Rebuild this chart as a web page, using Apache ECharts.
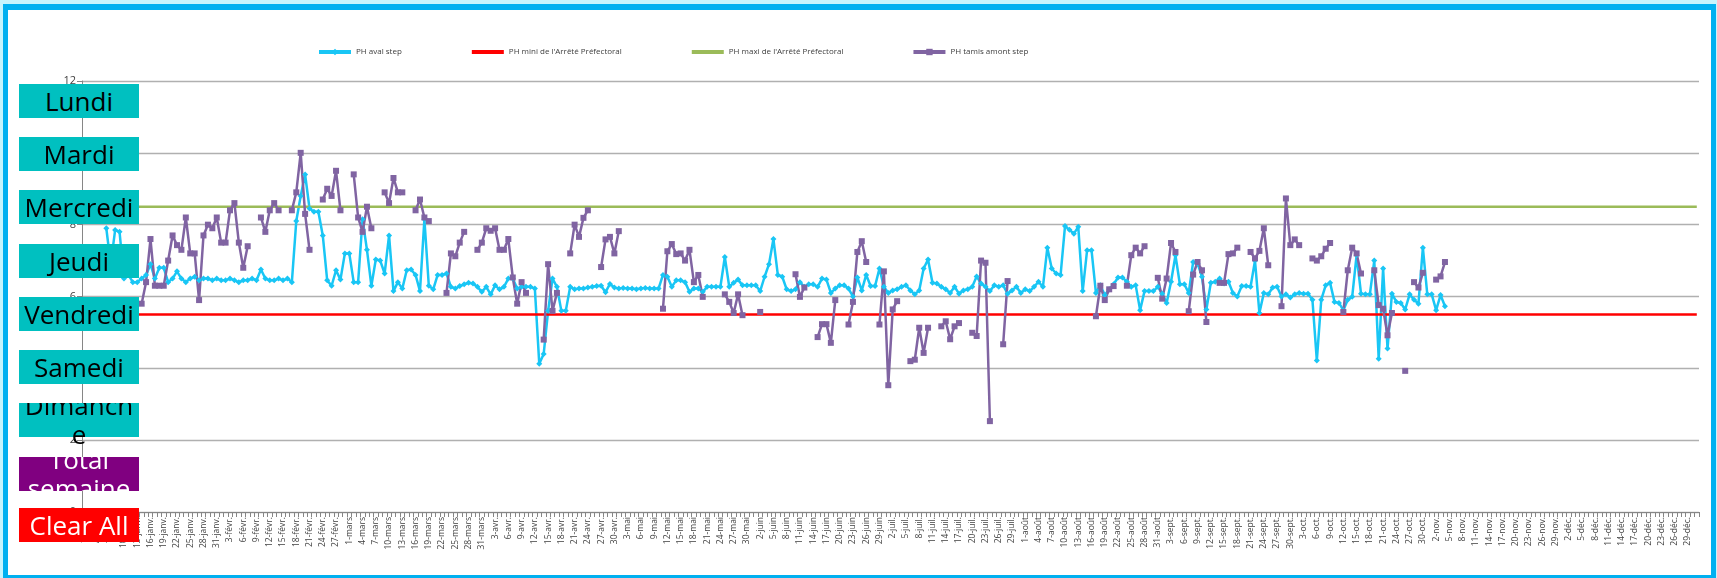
<!DOCTYPE html>
<html>
<head>
<meta charset="utf-8">
<title>PH aval / amont step</title>
<script src="https://cdn.jsdelivr.net/npm/echarts@6/dist/echarts.min.js"></script>
<style>
  html, body { margin: 0; padding: 0; }
  body { width: 1717px; height: 578px; position: relative; overflow: hidden; background: #c6f4fd; }
  #frame {
    position: absolute; left: 3px; top: 4px; width: 1713px; height: 578px;
    box-sizing: border-box; border: 5px solid #00b0f0; border-top-width: 6px; border-bottom-width: 7px;
    background: #fff;
  }
  #chart { position: absolute; left: 0; top: 0; width: 1717px; height: 578px; }
  .btn {
    position: absolute; left: 19px; width: 120px; height: 34px;
    display: flex; align-items: center; justify-content: center;
    text-align: center; overflow: hidden;
    font-family: 'Open Sans', sans-serif; font-size: 26px; line-height: 29px;
    background: #00c0c0; color: #000; z-index: 5;
  }
  .btn span { display: block; padding: 0 3px; }
  .wrap span { word-break: break-all; }
</style>
</head>
<body>
<div id="frame"></div>
<div id="chart"></div>

<div class="btn" style="top:84px">Lundi</div>
<div class="btn" style="top:137px">Mardi</div>
<div class="btn" style="top:190px">Mercredi</div>
<div class="btn" style="top:244px">Jeudi</div>
<div class="btn" style="top:297px">Vendredi</div>
<div class="btn" style="top:350px">Samedi</div>
<div class="btn wrap" style="top:403px; overflow:visible; clip-path:inset(0 0 -12px 0)"><span>Dimanche</span></div>
<div class="btn" style="top:457px; background:#800080; color:#fff"><span>Total semaine</span></div>
<div class="btn" style="top:508px; background:#ff0000; color:#fff">Clear All</div>

<script>
  // année bissextile : 366 jours
  const moisNoms = ['janv.', 'févr.', 'mars', 'avr.', 'mai', 'juin', 'juil.', 'août', 'sept.', 'oct.', 'nov.', 'déc.']
  const moisJours = [31, 29, 31, 30, 31, 30, 31, 31, 30, 31, 30, 31]

  const jours = []
  moisJours.forEach((n, m) => {
    for (let d = 1; d <= n; d++) jours.push(d + '-' + moisNoms[m])
  })

  // PH aval step
  const avalJanv = [null, null, null, null, null, 7.9, 6.9, 7.85, 7.8, 6.5, 6.6, 6.4, 6.4, 6.5, 6.6, 6.9, 6.5, 6.8, 6.8, 6.4, 6.5, 6.7, 6.5, 6.4, 6.5, 6.55, 6.45, 6.5, 6.5, 6.45, 6.5]
  const avalFevr = [6.45, 6.45, 6.5, 6.45, 6.4, 6.45, 6.45, 6.5, 6.45, 6.75, 6.5, 6.45, 6.45, 6.5, 6.45, 6.5, 6.4, 8.1, 8.8, 9.4, 8.45, 8.36, 8.36, 7.7, 6.45, 6.3, 6.73, 6.47, 7.2]
  const avalMars = [7.2, 6.4, 6.4, 8.15, 7.3, 6.3, 7.03, 7.0, 6.64, 7.7, 6.15, 6.4, 6.22, 6.73, 6.75, 6.6, 6.15, 8.15, 6.3, 6.2, 6.6, 6.6, 6.64, 6.27, 6.22, 6.29, 6.34, 6.38, 6.36, 6.27, 6.13]
  const avalAvr = [6.27, 6.06, 6.31, 6.2, 6.27, 6.5, 6.5, 6.22, 6.27, 6.27, 6.27, 6.22, 4.13, 4.4, 5.6, 6.5, 6.27, 5.6, 5.6, 6.27, 6.2, 6.22, 6.22, 6.25, 6.27, 6.29, 6.3, 6.12, 6.35, 6.25]
  const avalMai = [6.22, 6.24, 6.22, 6.22, 6.2, 6.22, 6.24, 6.22, 6.22, 6.22, 6.6, 6.55, 6.27, 6.45, 6.45, 6.4, 6.13, 6.22, 6.22, 6.13, 6.27, 6.27, 6.27, 6.27, 7.1, 6.27, 6.38, 6.47, 6.31, 6.31, 6.31]
  const avalJuin = [6.31, 6.15, 6.55, 6.9, 7.6, 6.6, 6.55, 6.2, 6.15, 6.2, 6.4, 6.27, 6.34, 6.34, 6.27, 6.5, 6.47, 6.1, 6.22, 6.31, 6.31, 6.22, 6.0, 6.53, 6.17, 6.6, 6.29, 6.29, 6.78, 6.27]
  const avalJuil = [6.1, 6.17, 6.2, 6.27, 6.31, 6.17, 6.06, 6.17, 6.78, 7.03, 6.38, 6.36, 6.27, 6.2, 6.1, 6.27, 6.08, 6.17, 6.2, 6.27, 6.56, 6.36, 6.27, 6.15, 6.31, 6.27, 6.31, 6.08, 6.17, 6.27, 6.1]
  const avalAout = [6.2, 6.15, 6.27, 6.41, 6.27, 7.36, 6.78, 6.64, 6.6, 7.96, 7.86, 7.75, 7.94, 6.15, 7.29, 7.29, 6.1, 6.31, 6.04, 6.2, 6.34, 6.53, 6.53, 6.41, 6.27, 6.31, 5.62, 6.15, 6.15, 6.15, 6.27]
  const avalSept = [6.08, 5.82, 6.41, 7.15, 6.34, 6.34, 6.1, 6.96, 6.92, 6.55, 5.64, 6.38, 6.41, 6.5, 6.36, 6.41, 6.1, 6.0, 6.29, 6.29, 6.27, 7.0, 5.54, 6.1, 6.06, 6.25, 6.27, 6.0, 6.06, 5.97]
  const avalOct = [6.06, 6.1, 6.08, 6.08, 5.91, 4.22, 5.91, 6.31, 6.38, 5.85, 5.82, 5.62, 5.91, 5.99, 7.15, 6.08, 6.06, 6.06, 7.0, 4.27, 6.78, 4.55, 6.08, 5.85, 5.82, 5.64, 6.06, 5.91, 5.8, 7.36, 6.06]
  const avalNov = [6.06, 5.62, 6.04, 5.73, null, null, null, null, null, null, null, null, null, null, null, null, null, null, null, null, null, null, null, null, null, null, null, null, null, null]
  const avalDec = [null, null, null, null, null, null, null, null, null, null, null, null, null, null, null, null, null, null, null, null, null, null, null, null, null, null, null, null, null, null, null]

  // PH tamis amont step
  const amontJanv = [null, null, null, null, null, null, null, null, null, null, null, null, null, 5.8, 6.4, 7.6, 6.3, 6.3, 6.3, 7.0, 7.7, 7.43, 7.3, 8.2, 7.2, 7.2, 5.9, 7.7, 8.0, 7.9, 8.2]
  const amontFevr = [7.5, 7.5, 8.4, 8.6, 7.5, 6.8, 7.4, null, null, 8.2, 7.8, 8.4, 8.6, 8.4, null, null, 8.4, 8.9, 10.0, 8.3, 7.3, null, null, 8.7, 9.0, 8.8, 9.5, 8.4, null]
  const amontMars = [null, 9.4, 8.2, 7.8, 8.5, 7.9, null, null, 8.9, 8.6, 9.3, 8.9, 8.9, null, null, 8.4, 8.7, 8.2, 8.1, null, null, null, 6.1, 7.2, 7.12, 7.5, 7.8, null, null, 7.3, 7.5]
  const amontAvr = [7.9, 7.83, 7.9, 7.3, 7.3, 7.6, 6.53, 5.8, 6.4, 6.1, null, null, null, 4.8, 6.9, 5.6, 6.1, null, null, 7.2, 8.0, 7.66, 8.19, 8.4, null, null, 6.82, 7.59, 7.66, 7.2]
  const amontMai = [7.82, null, null, null, null, null, null, null, null, null, 5.66, 7.26, 7.46, 7.18, 7.2, 7.0, 7.3, 6.4, 6.6, 5.99, null, null, null, null, 6.06, 5.85, 5.54, 6.06, 5.48, null, null]
  const amontJuin = [null, 5.57, null, null, null, null, null, null, null, 6.62, 5.99, 6.25, null, null, 4.87, 5.23, 5.23, 4.71, 5.9, null, null, 5.22, 5.85, 7.24, 7.54, 6.96, null, null, 5.22, 6.7]
  const amontJuil = [3.53, 5.64, 5.87, null, null, 4.2, 4.24, 5.13, 4.43, 5.13, null, null, 5.17, 5.31, 4.81, 5.17, 5.26, null, null, 4.99, 4.9, 7.0, 6.94, 2.53, null, null, 4.67, 6.43, null, null, null]
  const amontAout = [null, null, null, null, null, null, null, null, null, null, null, null, null, null, null, null, 5.45, 6.3, 5.9, 6.2, 6.29, null, null, 6.3, 7.15, 7.36, 7.2, 7.4, null, null, 6.52]
  const amontSept = [5.94, 6.5, 7.49, 7.24, null, null, 5.59, 6.61, 6.96, 6.73, 5.29, null, null, 6.38, 6.38, 7.18, 7.2, 7.36, null, null, 7.24, 7.06, 7.27, 7.9, 6.87, null, null, 5.73, 8.73, 7.43]
  const amontOct = [7.59, 7.43, null, null, 7.06, 7.0, 7.12, 7.33, 7.49, null, null, 5.57, 6.73, 7.36, 7.2, 6.64, null, null, 6.73, 5.76, 5.66, 4.92, 5.54, null, null, 3.93, null, 6.4, 6.25, 6.66, null]
  const amontNov = [null, 6.47, 6.56, 6.96, null, null, null, null, null, null, null, null, null, null, null, null, null, null, null, null, null, null, null, null, null, null, null, null, null, null]
  const amontDec = [null, null, null, null, null, null, null, null, null, null, null, null, null, null, null, null, null, null, null, null, null, null, null, null, null, null, null, null, null, null, null]

  // seuils de l'arrêté préfectoral
  const phMini = 5.5
  const phMaxi = 8.5

  const phAval = [].concat(avalJanv, avalFevr, avalMars, avalAvr, avalMai, avalJuin,
    avalJuil, avalAout, avalSept, avalOct, avalNov, avalDec)
  const phAmont = [].concat(amontJanv, amontFevr, amontMars, amontAvr, amontMai, amontJuin,
    amontJuil, amontAout, amontSept, amontOct, amontNov, amontDec)
  const lignMini = jours.map(() => phMini)
  const lignMaxi = jours.map(() => phMaxi)

  const cyan = '#19c6f5'
  const violet = '#8064a2'

  const chart = echarts.init(document.getElementById('chart'), null, { renderer: 'canvas' })

  chart.setOption({
    animation: false,
    textStyle: { fontFamily: 'Open Sans' },
    legend: {
      left: 312,
      top: 43,
      itemWidth: 32,
      itemHeight: 8,
      itemGap: 68,
      textStyle: { fontSize: 8, color: '#404040' },
      lineStyle: { width: 4 },
      data: [
        'PH aval step',
        { name: "PH mini de l'Arrêté Préfectoral", itemStyle: { opacity: 0 } },
        { name: "PH maxi de l'Arrêté Préfectoral", itemStyle: { opacity: 0 } },
        'PH tamis amont step'
      ]
    },
    grid: {
      left: 82,
      right: 18,
      top: 81,
      bottom: 66
    },
    xAxis: {
      type: 'category',
      data: jours,
      boundaryGap: true,
      axisLine: { lineStyle: { color: '#868686', width: 1 } },
      axisTick: { show: true, interval: 0, length: 5, lineStyle: { color: '#868686' } },
      axisLabel: {
        interval: 2,
        rotate: 90,
        fontSize: 8.5,
        color: '#404040',
        margin: 5
      },
      splitLine: { show: false }
    },
    yAxis: {
      type: 'value',
      min: 0,
      max: 12,
      interval: 2,
      axisLine: { show: true, lineStyle: { color: '#868686' } },
      axisTick: { show: true, length: 5, lineStyle: { color: '#868686' } },
      axisLabel: { fontSize: 11, color: '#404040', margin: 6 },
      splitLine: { show: true, lineStyle: { color: '#b0b0b0', width: 1.3 } }
    },
    series: [{
        name: 'PH aval step',
        type: 'line',
        data: phAval,
        symbol: 'diamond',
        symbolSize: 6,
        showAllSymbol: true,
        connectNulls: false,
        lineStyle: { color: cyan, width: 2.5 },
        itemStyle: { color: cyan }
      },
      {
        name: "PH mini de l'Arrêté Préfectoral",
        type: 'line',
        data: lignMini,
        symbol: 'none',
        lineStyle: { color: '#ff0000', width: 2.5 },
        itemStyle: { color: '#ff0000' }
      },
      {
        name: "PH maxi de l'Arrêté Préfectoral",
        type: 'line',
        data: lignMaxi,
        symbol: 'none',
        lineStyle: { color: '#9bbb59', width: 2.5 },
        itemStyle: { color: '#9bbb59' }
      },
      {
        name: 'PH tamis amont step',
        type: 'line',
        data: phAmont,
        symbol: 'rect',
        symbolSize: 6,
        showAllSymbol: true,
        connectNulls: false,
        lineStyle: { color: violet, width: 2.5 },
        itemStyle: { color: violet }
      }
    ]
  })
</script>
</body>
</html>
